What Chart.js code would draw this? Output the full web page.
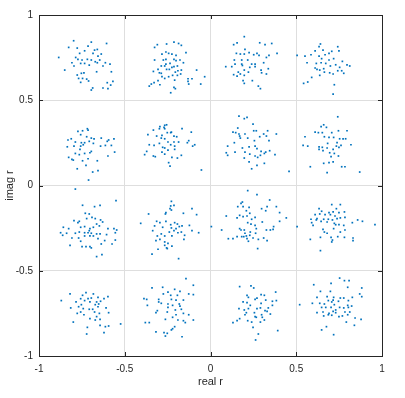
<!DOCTYPE html>
<html>
<head>
<meta charset="utf-8">
<title>16-QAM scatter</title>
<script src="https://cdn.jsdelivr.net/npm/chart.js@4/dist/chart.umd.min.js"></script>
<style>
    html, body { margin: 0; padding: 0; background: #fff; }
    canvas { display: block; }
</style>
</head>
<body>
<canvas id="chart" width="405" height="398"></canvas>
<script>
"use strict";

// Received symbols, one array per constellation point (row 1 = top).
var ptsR1C1 = [
    [-0.798, 0.849], [-0.885, 0.751], [-0.850, 0.677], [-0.827, 0.810], [-0.777, 0.806], [-0.714, 0.818], [-0.695, 0.841], [-0.606, 0.833],
    [-0.763, 0.775], [-0.734, 0.790], [-0.676, 0.794], [-0.660, 0.798], [-0.637, 0.771], [-0.685, 0.775], [-0.656, 0.759], [-0.786, 0.751],
    [-0.773, 0.740], [-0.749, 0.736], [-0.718, 0.740], [-0.695, 0.736], [-0.672, 0.726], [-0.646, 0.736], [-0.808, 0.720], [-0.796, 0.701],
    [-0.757, 0.716], [-0.734, 0.716], [-0.707, 0.706], [-0.660, 0.720], [-0.613, 0.720], [-0.586, 0.712], [-0.627, 0.701], [-0.578, 0.667],
    [-0.664, 0.667], [-0.777, 0.648], [-0.753, 0.658], [-0.738, 0.661], [-0.769, 0.628], [-0.746, 0.628], [-0.722, 0.624], [-0.711, 0.613],
    [-0.757, 0.605], [-0.687, 0.572], [-0.695, 0.560], [-0.627, 0.572], [-0.602, 0.603], [-0.569, 0.611], [-0.598, 0.568], [-0.582, 0.589]
];
var ptsR1C2 = [
    [-0.310, 0.826], [-0.256, 0.830], [-0.213, 0.841], [-0.186, 0.833], [-0.170, 0.822], [-0.326, 0.810], [-0.260, 0.783], [-0.283, 0.771],
    [-0.244, 0.775], [-0.225, 0.771], [-0.201, 0.763], [-0.143, 0.779], [-0.326, 0.736], [-0.275, 0.736], [-0.260, 0.740], [-0.213, 0.740],
    [-0.201, 0.732], [-0.178, 0.736], [-0.260, 0.712], [-0.236, 0.716], [-0.158, 0.720], [-0.287, 0.701], [-0.267, 0.701], [-0.225, 0.693],
    [-0.213, 0.697], [-0.193, 0.701], [-0.306, 0.681], [-0.256, 0.681], [-0.240, 0.681], [-0.205, 0.665], [-0.190, 0.673], [-0.170, 0.677],
    [-0.333, 0.669], [-0.298, 0.661], [-0.287, 0.658], [-0.244, 0.638], [-0.221, 0.646], [-0.193, 0.646], [-0.174, 0.654], [-0.081, 0.677],
    [-0.267, 0.628], [-0.306, 0.615], [-0.329, 0.603], [-0.345, 0.595], [-0.357, 0.583], [-0.295, 0.591], [-0.209, 0.618], [-0.205, 0.568],
    [-0.213, 0.575], [-0.232, 0.544], [-0.131, 0.626], [-0.108, 0.626], [-0.131, 0.611], [-0.127, 0.595], [-0.057, 0.595], [-0.034, 0.638],
    [-0.283, 0.638]
];
var ptsR1C3 = [
    [0.197, 0.873], [0.135, 0.826], [0.155, 0.837], [0.287, 0.837], [0.318, 0.826], [0.357, 0.833], [0.201, 0.798], [0.151, 0.775],
    [0.174, 0.771], [0.197, 0.771], [0.225, 0.779], [0.252, 0.767], [0.271, 0.775], [0.283, 0.763], [0.341, 0.763], [0.388, 0.775],
    [0.139, 0.736], [0.182, 0.736], [0.217, 0.736], [0.240, 0.712], [0.260, 0.712], [0.326, 0.751], [0.310, 0.720], [0.143, 0.712],
    [0.089, 0.697], [0.124, 0.697], [0.186, 0.704], [0.197, 0.677], [0.229, 0.693], [0.260, 0.697], [0.295, 0.677], [0.337, 0.685],
    [0.162, 0.665], [0.135, 0.650], [0.174, 0.654], [0.197, 0.646], [0.221, 0.665], [0.298, 0.661], [0.326, 0.654], [0.155, 0.642],
    [0.190, 0.615], [0.197, 0.599], [0.244, 0.615], [0.279, 0.583], [0.291, 0.568], [0.182, 0.712]
];
var ptsR1C4 = [
    [0.641, 0.830], [0.633, 0.814], [0.742, 0.814], [0.610, 0.790], [0.656, 0.794], [0.691, 0.775], [0.707, 0.787], [0.749, 0.790],
    [0.505, 0.763], [0.551, 0.759], [0.586, 0.767], [0.633, 0.759], [0.668, 0.767], [0.563, 0.720], [0.617, 0.716], [0.645, 0.720],
    [0.672, 0.716], [0.691, 0.736], [0.718, 0.744], [0.769, 0.728], [0.796, 0.708], [0.812, 0.701], [0.610, 0.689], [0.621, 0.681],
    [0.637, 0.677], [0.660, 0.685], [0.699, 0.701], [0.730, 0.708], [0.753, 0.693], [0.765, 0.673], [0.777, 0.658], [0.695, 0.661],
    [0.715, 0.654], [0.742, 0.673], [0.637, 0.646], [0.590, 0.634], [0.567, 0.607], [0.543, 0.599], [0.722, 0.591], [0.715, 0.536],
    [0.664, 0.665], [0.648, 0.744]
];
var ptsR2C1 = [
    [-0.773, 0.317], [-0.746, 0.321], [-0.718, 0.333], [-0.714, 0.325], [-0.757, 0.298], [-0.722, 0.286], [-0.695, 0.278], [-0.679, 0.274],
    [-0.637, 0.278], [-0.812, 0.274], [-0.831, 0.267], [-0.788, 0.255], [-0.753, 0.251], [-0.734, 0.251], [-0.707, 0.259], [-0.683, 0.247],
    [-0.602, 0.259], [-0.594, 0.267], [-0.563, 0.274], [-0.796, 0.231], [-0.835, 0.227], [-0.757, 0.231], [-0.742, 0.239], [-0.641, 0.231],
    [-0.613, 0.235], [-0.578, 0.235], [-0.695, 0.200], [-0.703, 0.192], [-0.788, 0.188], [-0.765, 0.181], [-0.734, 0.188], [-0.827, 0.165],
    [-0.808, 0.153], [-0.800, 0.149], [-0.746, 0.145], [-0.714, 0.157], [-0.660, 0.145], [-0.598, 0.173], [-0.559, 0.196], [-0.726, 0.118],
    [-0.777, 0.098], [-0.687, 0.079], [-0.656, 0.087], [-0.711, 0.032], [-0.788, -0.021], [-0.761, 0.212]
];
var ptsR2C2 = [
    [-0.295, 0.345], [-0.267, 0.353], [-0.256, 0.356], [-0.298, 0.333], [-0.267, 0.333], [-0.271, 0.341], [-0.228, 0.313], [-0.166, 0.333],
    [-0.333, 0.325], [-0.112, 0.313], [-0.283, 0.294], [-0.252, 0.310], [-0.232, 0.310], [-0.213, 0.290], [-0.197, 0.286], [-0.365, 0.298],
    [-0.314, 0.290], [-0.267, 0.274], [-0.248, 0.255], [-0.213, 0.255], [-0.186, 0.255], [-0.127, 0.263], [-0.135, 0.251], [-0.092, 0.239],
    [-0.357, 0.239], [-0.329, 0.235], [-0.279, 0.224], [-0.267, 0.220], [-0.232, 0.239], [-0.209, 0.231], [-0.104, 0.231], [-0.372, 0.200],
    [-0.283, 0.196], [-0.248, 0.208], [-0.209, 0.212], [-0.333, 0.173], [-0.322, 0.169], [-0.384, 0.181], [-0.267, 0.184], [-0.225, 0.165],
    [-0.193, 0.161], [-0.170, 0.177], [-0.244, 0.134], [-0.236, 0.114], [-0.053, 0.091], [-0.298, 0.247], [-0.287, 0.278]
];
var ptsR2C3 = [
    [0.166, 0.407], [0.197, 0.392], [0.213, 0.399], [0.248, 0.360], [0.159, 0.337], [0.131, 0.313], [0.147, 0.310], [0.166, 0.302],
    [0.201, 0.302], [0.252, 0.321], [0.267, 0.321], [0.333, 0.321], [0.174, 0.278], [0.217, 0.278], [0.287, 0.286], [0.310, 0.302],
    [0.326, 0.290], [0.384, 0.302], [0.256, 0.263], [0.341, 0.263], [0.139, 0.251], [0.100, 0.231], [0.225, 0.227], [0.260, 0.231],
    [0.271, 0.216], [0.295, 0.200], [0.322, 0.196], [0.345, 0.204], [0.143, 0.196], [0.092, 0.192], [0.100, 0.177], [0.201, 0.196],
    [0.229, 0.184], [0.260, 0.173], [0.291, 0.177], [0.314, 0.188], [0.376, 0.181], [0.197, 0.161], [0.275, 0.165], [0.225, 0.138],
    [0.314, 0.130], [0.271, 0.118], [0.240, 0.098], [0.458, 0.083], [0.186, 0.220], [0.170, 0.290]
];
var ptsR2C4 = [
    [0.742, 0.403], [0.660, 0.356], [0.645, 0.345], [0.676, 0.341], [0.746, 0.321], [0.796, 0.321], [0.610, 0.313], [0.629, 0.310],
    [0.652, 0.310], [0.707, 0.310], [0.551, 0.286], [0.664, 0.286], [0.691, 0.282], [0.718, 0.282], [0.753, 0.274], [0.773, 0.274],
    [0.788, 0.274], [0.540, 0.235], [0.567, 0.231], [0.633, 0.227], [0.652, 0.224], [0.680, 0.220], [0.734, 0.231], [0.761, 0.235],
    [0.819, 0.239], [0.633, 0.212], [0.715, 0.212], [0.749, 0.224], [0.656, 0.204], [0.695, 0.192], [0.722, 0.188], [0.703, 0.169],
    [0.746, 0.173], [0.660, 0.130], [0.691, 0.134], [0.715, 0.138], [0.765, 0.110], [0.784, 0.110], [0.582, 0.110], [0.680, 0.075],
    [0.870, 0.079], [0.738, 0.251], [0.683, 0.247]
];
var ptsR3C1 = [
    [-0.746, -0.116], [-0.676, -0.124], [-0.644, -0.116], [-0.551, -0.089], [-0.730, -0.163], [-0.707, -0.167], [-0.796, -0.206], [-0.765, -0.210],
    [-0.773, -0.218], [-0.722, -0.194], [-0.691, -0.187], [-0.672, -0.194], [-0.641, -0.202], [-0.629, -0.214], [-0.664, -0.226], [-0.858, -0.245],
    [-0.827, -0.253], [-0.757, -0.245], [-0.734, -0.241], [-0.703, -0.253], [-0.707, -0.265], [-0.683, -0.245], [-0.648, -0.237], [-0.598, -0.253],
    [-0.563, -0.253], [-0.547, -0.261], [-0.874, -0.277], [-0.839, -0.280], [-0.765, -0.273], [-0.734, -0.277], [-0.714, -0.277], [-0.695, -0.280],
    [-0.664, -0.284], [-0.644, -0.284], [-0.606, -0.288], [-0.555, -0.277], [-0.862, -0.292], [-0.808, -0.308], [-0.769, -0.308], [-0.734, -0.296],
    [-0.703, -0.296], [-0.683, -0.296], [-0.656, -0.312], [-0.617, -0.323], [-0.555, -0.320], [-0.757, -0.327], [-0.819, -0.351], [-0.749, -0.359],
    [-0.726, -0.359], [-0.703, -0.359], [-0.695, -0.366], [-0.637, -0.343], [-0.574, -0.343], [-0.664, -0.417], [-0.633, -0.405], [-0.788, -0.280]
];
var ptsR3C2 = [
    [-0.228, -0.093], [-0.232, -0.120], [-0.213, -0.116], [-0.236, -0.136], [-0.228, -0.144], [-0.260, -0.159], [-0.263, -0.167], [-0.158, -0.163],
    [-0.108, -0.136], [-0.081, -0.171], [-0.361, -0.167], [-0.314, -0.210], [-0.295, -0.218], [-0.260, -0.210], [-0.209, -0.218], [-0.193, -0.226],
    [-0.232, -0.230], [-0.123, -0.234], [-0.407, -0.222], [-0.326, -0.237], [-0.279, -0.245], [-0.228, -0.249], [-0.201, -0.253], [-0.182, -0.241],
    [-0.166, -0.237], [-0.069, -0.277], [-0.108, -0.265], [-0.337, -0.265], [-0.287, -0.284], [-0.240, -0.273], [-0.213, -0.265], [-0.190, -0.277],
    [-0.170, -0.273], [-0.310, -0.296], [-0.267, -0.296], [-0.225, -0.296], [-0.155, -0.316], [-0.151, -0.292], [-0.318, -0.323], [-0.267, -0.331],
    [-0.248, -0.339], [-0.267, -0.351], [-0.225, -0.355], [-0.252, -0.370], [-0.306, -0.374], [-0.341, -0.402], [-0.256, -0.366], [-0.186, -0.429],
    [0.005, -0.241], [-0.295, -0.316]
];
var ptsR3C3 = [
    [0.217, -0.030], [0.271, -0.054], [0.345, -0.085], [0.186, -0.097], [0.178, -0.105], [0.159, -0.124], [0.190, -0.124], [0.225, -0.128],
    [0.330, -0.124], [0.384, -0.124], [0.298, -0.136], [0.209, -0.148], [0.229, -0.163], [0.322, -0.148], [0.403, -0.159], [0.092, -0.179],
    [0.170, -0.175], [0.190, -0.183], [0.213, -0.179], [0.260, -0.187], [0.442, -0.190], [0.155, -0.190], [0.240, -0.198], [0.217, -0.218],
    [0.236, -0.226], [0.302, -0.214], [0.403, -0.210], [0.065, -0.261], [0.170, -0.253], [0.178, -0.261], [0.197, -0.261], [0.260, -0.234],
    [0.267, -0.253], [0.326, -0.261], [0.349, -0.261], [0.368, -0.241], [0.201, -0.280], [0.232, -0.273], [0.263, -0.280], [0.209, -0.296],
    [0.229, -0.292], [0.155, -0.300], [0.182, -0.300], [0.104, -0.312], [0.131, -0.312], [0.213, -0.312], [0.248, -0.308], [0.279, -0.316],
    [0.310, -0.308], [0.330, -0.323], [0.275, -0.370], [0.221, -0.327], [0.194, -0.300], [0.365, -0.257]
];
var ptsR3C4 = [
    [0.707, -0.112], [0.757, -0.112], [0.633, -0.136], [0.734, -0.136], [0.648, -0.151], [0.691, -0.159], [0.715, -0.155], [0.749, -0.159],
    [0.610, -0.171], [0.637, -0.167], [0.668, -0.171], [0.699, -0.171], [0.726, -0.179], [0.781, -0.155], [0.586, -0.198], [0.621, -0.194],
    [0.660, -0.198], [0.687, -0.198], [0.711, -0.202], [0.738, -0.194], [0.757, -0.190], [0.784, -0.187], [0.858, -0.202], [0.590, -0.218],
    [0.598, -0.234], [0.645, -0.210], [0.680, -0.214], [0.722, -0.222], [0.730, -0.230], [0.749, -0.230], [0.777, -0.234], [0.827, -0.218],
    [0.886, -0.210], [0.959, -0.230], [0.505, -0.241], [0.656, -0.257], [0.664, -0.273], [0.680, -0.280], [0.718, -0.253], [0.757, -0.273],
    [0.784, -0.261], [0.582, -0.316], [0.641, -0.304], [0.703, -0.304], [0.711, -0.320], [0.707, -0.331], [0.742, -0.300], [0.781, -0.304],
    [0.831, -0.308], [0.831, -0.323], [0.641, -0.382], [0.617, -0.202]
];
var ptsR4C1 = [
    [-0.726, -0.628], [-0.819, -0.636], [-0.746, -0.644], [-0.683, -0.636], [-0.757, -0.664], [-0.714, -0.664], [-0.695, -0.660], [-0.656, -0.656],
    [-0.621, -0.664], [-0.598, -0.652], [-0.870, -0.675], [-0.784, -0.683], [-0.734, -0.675], [-0.703, -0.683], [-0.664, -0.683], [-0.641, -0.679],
    [-0.753, -0.699], [-0.672, -0.699], [-0.652, -0.695], [-0.815, -0.718], [-0.769, -0.711], [-0.742, -0.722], [-0.707, -0.726], [-0.687, -0.726],
    [-0.656, -0.711], [-0.609, -0.718], [-0.777, -0.750], [-0.738, -0.758], [-0.676, -0.742], [-0.648, -0.750], [-0.594, -0.746], [-0.703, -0.781],
    [-0.664, -0.769], [-0.644, -0.785], [-0.800, -0.801], [-0.672, -0.789], [-0.718, -0.832], [-0.613, -0.828], [-0.594, -0.824], [-0.524, -0.812],
    [-0.621, -0.863], [-0.722, -0.871], [-0.644, -0.820], [-0.757, -0.742]
];
var ptsR4C2 = [
    [-0.143, -0.546], [-0.100, -0.585], [-0.341, -0.601], [-0.279, -0.597], [-0.209, -0.609], [-0.178, -0.621], [-0.248, -0.625], [-0.275, -0.636],
    [-0.232, -0.644], [-0.193, -0.644], [-0.127, -0.636], [-0.100, -0.640], [-0.388, -0.664], [-0.372, -0.668], [-0.302, -0.668], [-0.228, -0.668],
    [-0.201, -0.672], [-0.158, -0.672], [-0.368, -0.703], [-0.302, -0.683], [-0.287, -0.691], [-0.248, -0.695], [-0.182, -0.695], [-0.248, -0.715],
    [-0.221, -0.703], [-0.178, -0.707], [-0.318, -0.746], [-0.310, -0.734], [-0.205, -0.730], [-0.170, -0.726], [-0.158, -0.750], [-0.201, -0.758],
    [-0.127, -0.758], [-0.263, -0.785], [-0.221, -0.773], [-0.190, -0.789], [-0.158, -0.793], [-0.100, -0.789], [-0.380, -0.804], [-0.357, -0.804],
    [-0.147, -0.804], [-0.209, -0.828], [-0.221, -0.840], [-0.228, -0.847], [-0.318, -0.859], [-0.271, -0.863], [-0.252, -0.867], [-0.166, -0.887],
    [-0.263, -0.883], [-0.252, -0.742]
];
var ptsR4C3 = [
    [0.170, -0.593], [0.236, -0.589], [0.252, -0.601], [0.380, -0.625], [0.295, -0.640], [0.314, -0.644], [0.213, -0.644], [0.221, -0.656],
    [0.271, -0.660], [0.260, -0.668], [0.322, -0.672], [0.361, -0.679], [0.384, -0.675], [0.190, -0.683], [0.213, -0.687], [0.295, -0.691],
    [0.232, -0.703], [0.337, -0.718], [0.361, -0.703], [0.166, -0.722], [0.197, -0.730], [0.221, -0.722], [0.271, -0.722], [0.291, -0.718],
    [0.318, -0.734], [0.209, -0.746], [0.256, -0.746], [0.298, -0.758], [0.330, -0.738], [0.267, -0.773], [0.260, -0.769], [0.302, -0.773],
    [0.131, -0.804], [0.155, -0.793], [0.170, -0.781], [0.217, -0.793], [0.240, -0.801], [0.291, -0.801], [0.314, -0.789], [0.248, -0.832],
    [0.392, -0.851], [0.279, -0.871], [0.263, -0.906], [0.201, -0.758], [0.349, -0.754]
];
var ptsR4C4 = [
    [0.753, -0.543], [0.781, -0.558], [0.808, -0.558], [0.602, -0.582], [0.703, -0.574], [0.800, -0.597], [0.882, -0.601], [0.641, -0.621],
    [0.699, -0.621], [0.870, -0.636], [0.882, -0.652], [0.621, -0.656], [0.680, -0.652], [0.718, -0.656], [0.757, -0.660], [0.777, -0.660],
    [0.827, -0.656], [0.687, -0.675], [0.715, -0.672], [0.746, -0.679], [0.804, -0.675], [0.520, -0.699], [0.594, -0.691], [0.637, -0.691],
    [0.664, -0.695], [0.707, -0.683], [0.722, -0.699], [0.800, -0.703], [0.823, -0.707], [0.648, -0.715], [0.672, -0.715], [0.703, -0.715],
    [0.753, -0.715], [0.777, -0.718], [0.804, -0.715], [0.621, -0.746], [0.656, -0.742], [0.691, -0.750], [0.715, -0.738], [0.730, -0.746],
    [0.784, -0.742], [0.812, -0.742], [0.660, -0.765], [0.687, -0.758], [0.707, -0.761], [0.749, -0.769], [0.769, -0.765], [0.800, -0.758],
    [0.843, -0.777], [0.878, -0.785], [0.792, -0.801], [0.839, -0.820], [0.676, -0.828], [0.648, -0.847], [0.718, -0.875], [0.730, -0.730]
];

var clusters = [
    ptsR1C1, ptsR1C2, ptsR1C3, ptsR1C4,
    ptsR2C1, ptsR2C2, ptsR2C3, ptsR2C4,
    ptsR3C1, ptsR3C2, ptsR3C3, ptsR3C4,
    ptsR4C1, ptsR4C2, ptsR4C3, ptsR4C4
];

var axisMin = -1;
var axisMax = 1;
var axisStep = 0.5;

var textColor = "#262626";
var fontFamily = "'Liberation Sans', Arial, sans-serif";

/**
 * Draws the closed axes box with the inward tick marks, the way Octave does it.
 */
var axesBox = {
    id: "axesBox",
    afterDraw: function (chart) {
        var ctx = chart.ctx;
        var area = chart.chartArea;
        var tickLen = 4;

        ctx.save();
        ctx.strokeStyle = textColor;
        ctx.lineWidth = 1;
        ctx.strokeRect(area.left + 0.5, area.top + 0.5, area.right - area.left, area.bottom - area.top);

        ctx.beginPath();
        chart.scales.x.ticks.forEach(function (tick) {
            var px = Math.round(chart.scales.x.getPixelForValue(tick.value)) + 0.5;
            ctx.moveTo(px, area.bottom);
            ctx.lineTo(px, area.bottom - tickLen);
            ctx.moveTo(px, area.top);
            ctx.lineTo(px, area.top + tickLen);
        });
        chart.scales.y.ticks.forEach(function (tick) {
            var py = Math.round(chart.scales.y.getPixelForValue(tick.value)) + 0.5;
            ctx.moveTo(area.left, py);
            ctx.lineTo(area.left + tickLen, py);
            ctx.moveTo(area.right, py);
            ctx.lineTo(area.right - tickLen, py);
        });
        ctx.stroke();
        ctx.restore();
    }
};

// Octave style tick text: 1, 0.5, 0 ... without trailing zeros
function tickText(value) {
    return String(value);
}

var points = [];
clusters.forEach(function (cluster) {
    cluster.forEach(function (p) {
        points.push({ x: p[0], y: p[1] });
    });
});

var config = {
    type: "scatter",
    data: {
        datasets: [{
            data: points,
            pointStyle: "rect",
            pointRadius: 1.2,
            pointBorderWidth: 0,
            backgroundColor: "#0072bd",
            borderColor: "#0072bd"
        }]
    },
    plugins: [axesBox],
    options: {
        responsive: false,
        animation: false,
        devicePixelRatio: 1,
        events: [],
        layout: {
            padding: { left: 0, right: 23, top: 15, bottom: 0 }
        },
        plugins: {
            legend: { display: false },
            tooltip: { enabled: false }
        },
        scales: {
            x: {
                type: "linear",
                min: axisMin,
                max: axisMax,
                ticks: {
                    stepSize: axisStep,
                    padding: 7,
                    color: textColor,
                    font: { family: fontFamily, size: 10 },
                    callback: tickText
                },
                grid: { color: "#dedede", drawTicks: false },
                border: { display: false },
                title: {
                    display: true,
                    text: "real r",
                    color: textColor,
                    font: { family: fontFamily, size: 11 },
                    padding: { top: 0, bottom: 9 }
                },
                afterFit: function (scale) {
                    scale.height = 42;
                }
            },
            y: {
                type: "linear",
                min: axisMin,
                max: axisMax,
                ticks: {
                    stepSize: axisStep,
                    padding: 6,
                    color: textColor,
                    font: { family: fontFamily, size: 10 },
                    callback: tickText
                },
                grid: { color: "#dedede", drawTicks: false },
                border: { display: false },
                title: {
                    display: true,
                    text: "imag r",
                    color: textColor,
                    font: { family: fontFamily, size: 11 },
                    padding: { top: 3, bottom: 0 }
                },
                afterFit: function (scale) {
                    scale.width = 39;
                }
            }
        }
    }
};

new Chart(document.getElementById("chart"), config);
</script>
</body>
</html>
